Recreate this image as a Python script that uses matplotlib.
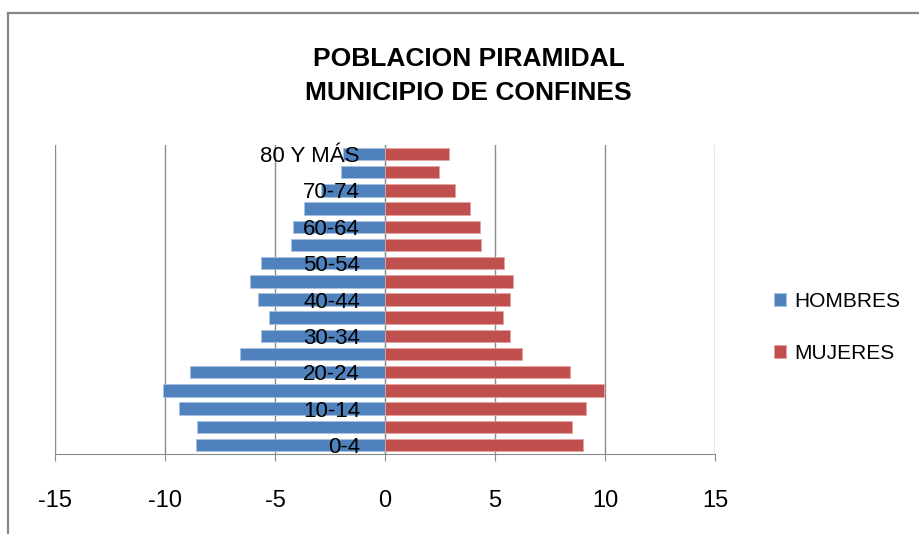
import matplotlib
matplotlib.use("Agg")
import matplotlib.pyplot as plt
from matplotlib.lines import Line2D

# Grupos de edad (de abajo hacia arriba)
edades = ['0-4', '5-9', '10-14', '15-19', '20-24', '25-29', '30-34', '35-39',
          '40-44', '45-49', '50-54', '55-59', '60-64', '65-69', '70-74', '75-79',
          '80 Y MÁS']
hombres = [-8.6, -8.55, -9.35, -10.1, -8.85, -6.6, -5.65, -5.25,
           -5.75, -6.15, -5.65, -4.25, -4.2, -3.7, -2.9, -2.0, -1.9]
mujeres = [9.0, 8.5, 9.15, 9.95, 8.4, 6.25, 5.7, 5.35,
           5.7, 5.8, 5.4, 4.35, 4.3, 3.85, 3.2, 2.45, 2.9]
marcas_x = [-15, -10, -5, 0, 5, 10, 15]

plt.rcParams['font.family'] = ['Liberation Sans', 'DejaVu Sans']

fig = plt.figure(figsize=(9.19, 5.34), dpi=100)
ax = fig.add_axes([55/919, 80/534, 660/919, 309/534])
ax.set_axisbelow(False)  # etiquetas encima de las barras

pos = list(range(len(edades)))
ax.barh(pos, hombres, height=0.68, color='#4F81BD', edgecolor='#A9C1E0',
        linewidth=0.6, label='HOMBRES', zorder=2)
ax.barh(pos, mujeres, height=0.68, color='#C0504D', edgecolor='#E3A3A1',
        linewidth=0.6, label='MUJERES', zorder=2)

# lineas de cuadricula detras de las barras
for m in marcas_x:
    ax.axvline(m, color='#8C8C8C', linewidth=1.0, zorder=1)

ax.set_xlim(-15, 15)
ax.set_ylim(-0.5, len(edades) - 0.5)
ax.set_xticks(marcas_x)
ax.set_xticklabels([str(m) for m in marcas_x])
ax.set_yticks(pos[::2])
ax.set_yticklabels(edades[::2])

ax.spines['top'].set_visible(False)
ax.spines['right'].set_visible(False)
ax.spines['left'].set_position(('data', 0))
ax.spines['left'].set_color('#8C8C8C')
ax.spines['bottom'].set_color('#8C8C8C')
ax.spines['left'].set_zorder(1.5)

ax.tick_params(axis='x', length=5, color='#8C8C8C', labelsize=17, pad=21, direction='out')
ax.tick_params(axis='y', length=0, labelsize=16, pad=18)

fig.text(0.51, 0.858, 'POBLACION PIRAMIDAL\nMUNICIPIO DE CONFINES', ha='center',
         va='center', fontsize=19, fontweight='bold', linespacing=1.5)

fig.legend(loc='center left', bbox_to_anchor=(755/919, 0.387), frameon=False,
           fontsize=15, handlelength=0.6, handleheight=0.6, handletextpad=0.4,
           labelspacing=1.6)

# borde del grafico
fig.add_artist(Line2D([8/919, 1], [1 - 13/534, 1 - 13/534], transform=fig.transFigure,
                      color='#878787', linewidth=1.6))
fig.add_artist(Line2D([8/919, 8/919], [0, 1 - 13/534], transform=fig.transFigure,
                      color='#878787', linewidth=1.6))

fig.savefig('out.png', dpi=100)
